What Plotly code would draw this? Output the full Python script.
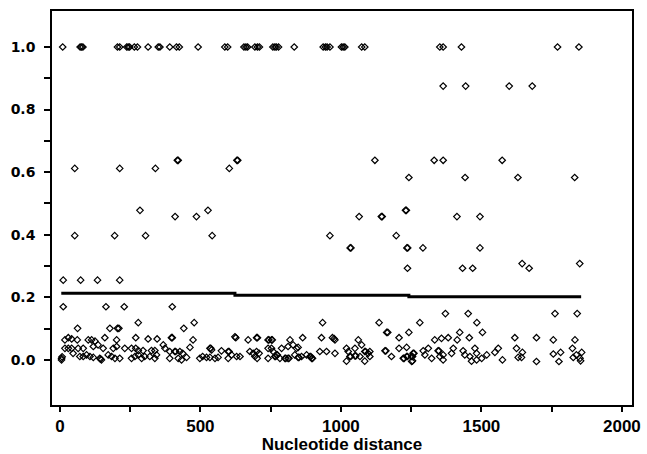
import plotly.graph_objects as go

# sparse points (upper part of the plot)
dist_high = [10, 72, 77, 82, 205, 213, 238, 243, 248, 265, 276, 314, 350, 356, 391, 415, 425, 492,
             587, 597, 655, 662, 668, 694, 703, 710, 758, 765, 770, 778, 834, 937, 945, 951, 961,
             1002, 1008, 1014, 1074, 1085, 1352, 1364, 1429, 1771, 1847,
             1364, 1444, 1599, 1681,
             418, 421, 630, 633, 1121, 1332, 1364, 1574,
             53, 213, 340, 603,
             1242, 1442, 1630, 1832,
             285, 527, 1230, 1233,
             410, 486, 1065, 1144, 1147, 1413, 1495,
             53, 195, 305, 542, 961, 1197,
             1033, 1036, 1235, 1238, 1292, 1495,
             1645, 1850,
             1237, 1433, 1469, 1670,
             12, 74, 134, 213,
             12, 164, 229, 400,
             1372, 1453, 1762, 1841,
             279, 478, 935, 1136, 1281, 1484,
             63, 178, 205, 210, 441,
             1163, 1167, 1242, 1423, 1504]
val_high = [1.0] * 45 + [0.875] * 4 + [0.638] * 8 + [0.612] * 4 + [0.583] * 4 + [0.478] * 4 \
    + [0.458] * 7 + [0.397] * 6 + [0.358] * 6 + [0.308] * 2 + [0.293] * 4 + [0.255] * 4 \
    + [0.170] * 4 + [0.148] * 4 + [0.119] * 6 + [0.101] * 5 + [0.088] * 5

# dense band near zero
dist_low = [18, 30, 42, 62, 101, 113, 125, 160, 202, 270, 314, 346,
            18, 30, 42, 65, 83, 119, 136, 154, 190, 202, 231, 255, 270, 279, 296, 326, 338,
            6, 6, 8, 47, 71, 83, 95, 107, 119, 142, 145, 148, 172, 184, 196, 213, 255, 267, 279,
            291, 302, 320, 338, 344,
            474, 397, 400, 368, 374, 463, 391, 409, 412, 427, 437, 391, 421, 433, 451, 498, 508,
            534, 537, 540, 522, 534, 552, 563, 575, 599, 602, 611, 599, 629, 641, 626, 623,
            670, 700, 703, 676, 688, 700, 709, 694, 702, 741, 744, 741, 741,
            753, 756, 819, 864, 931, 970, 976, 979, 1062,
            753, 759, 789, 812, 830, 842, 848,
            765, 768, 771, 774, 783, 801, 804, 812, 815,
            836, 848, 851, 860, 878, 890, 893, 896, 899,
            925, 949, 979, 1020, 1026, 1050, 1074, 1032, 1035, 1050, 1053, 1020,
            1085, 1088, 1097, 1103, 1068, 1085, 1103,
            1207, 1334, 1358, 1382, 1414, 1457,
            1157, 1160, 1180, 1207, 1234,
            1222, 1225, 1234, 1237, 1252, 1255, 1257, 1260, 1252, 1255,
            1293, 1299, 1311, 1323, 1346, 1349, 1352, 1364, 1364,
            1394, 1400, 1435, 1441, 1459, 1477, 1483, 1465, 1483, 1501, 1519,
            1619, 1696, 1756, 1833,
            1560, 1548, 1575, 1625, 1646, 1631, 1643, 1696, 1756, 1782, 1776,
            1824, 1838, 1827, 1857, 1851, 1853]
val_low = [0.064, 0.071, 0.067, 0.064, 0.064, 0.064, 0.060, 0.071, 0.064, 0.071, 0.067, 0.067,
           0.037, 0.037, 0.037, 0.037, 0.037, 0.043, 0.048, 0.037, 0.037, 0.043, 0.037, 0.037,
           0.037, 0.030, 0.030, 0.030, 0.030,
           0.005, 0.0, 0.010, 0.021, 0.011, 0.011, 0.016, 0.011, 0.008, 0.005, 0.003, 0.0, 0.016,
           0.011, 0.005, 0.005, 0.005, 0.011, 0.016, 0.005, 0.011, 0.011, 0.005, 0.016,
           0.064, 0.071, 0.071, 0.048, 0.037, 0.040, 0.027, 0.027, 0.027, 0.027, 0.021, 0.005,
           0.005, 0.0, 0.008, 0.005, 0.011,
           0.037, 0.037, 0.032, 0.008, 0.008, 0.005, 0.008, 0.029, 0.027, 0.027, 0.016, 0.005,
           0.011, 0.011, 0.071, 0.074,
           0.064, 0.071, 0.071, 0.027, 0.021, 0.027, 0.021, 0.011, 0.005, 0.064, 0.064, 0.037,
           0.005,
           0.064, 0.064, 0.064, 0.071, 0.071, 0.071, 0.068, 0.064, 0.064,
           0.037, 0.027, 0.037, 0.043, 0.048, 0.037, 0.040,
           0.011, 0.011, 0.016, 0.016, 0.005, 0.005, 0.005, 0.005, 0.005,
           0.016, 0.008, 0.008, 0.011, 0.016, 0.011, 0.011, 0.005, 0.005,
           0.027, 0.027, 0.021, 0.037, 0.027, 0.037, 0.048, 0.011, 0.011, 0.013, 0.013, -0.004,
           0.027, 0.027, 0.021, 0.027, 0.011, -0.004, 0.011,
           0.071, 0.064, 0.069, 0.071, 0.064, 0.071,
           0.029, 0.029, 0.011, 0.037, 0.040,
           0.005, 0.005, 0.011, 0.011, 0.011, 0.011, 0.021, 0.021, -0.005, -0.003,
           0.029, 0.016, 0.037, 0.005, 0.029, 0.029, 0.011, 0.0, 0.016,
           0.021, 0.037, 0.029, 0.016, 0.011, 0.037, 0.021, -0.004, 0.0, 0.005, 0.016,
           0.071, 0.071, 0.064, 0.064,
           0.037, 0.024, 0.0, 0.037, 0.024, 0.008, 0.008, -0.005, 0.019, 0.024, -0.005,
           0.037, 0.016, 0.008, 0.024, 0.005, -0.003]

# mean line (steps)
mean_x = [5, 623, 1242, 1855]
mean_y = [0.213, 0.207, 0.202, 0.202]

x_ticks = [0, 250, 500, 750, 1000, 1250, 1500, 1750, 2000]
x_labels = ["0", "", "500", "", "1000", "", "1500", "", "2000"]
y_ticks = [0.0, 0.1, 0.2, 0.3, 0.4, 0.5, 0.6, 0.7, 0.8, 0.9, 1.0]
y_labels = ["0.0", "", "0.2", "", "0.4", "", "0.6", "", "0.8", "", "1.0"]

fig = go.Figure()
fig.add_trace(go.Scatter(x=dist_high + dist_low, y=val_high + val_low, mode="markers",
                         marker=dict(symbol="diamond-open", size=5, color="black",
                                     line=dict(width=1.2, color="black")),
                         showlegend=False))
fig.add_trace(go.Scatter(x=mean_x, y=mean_y, mode="lines", line_shape="hv",
                         line=dict(color="black", width=3), showlegend=False))

fig.update_layout(
    width=647, height=454,
    margin=dict(l=52, r=15, t=11, b=49),
    paper_bgcolor="white", plot_bgcolor="white",
)
fig.update_xaxes(range=[-28, 2036], tickvals=x_ticks, ticktext=x_labels, automargin=False,
                 ticks="outside", ticklen=5, tickwidth=1.5, tickcolor="black",
                 showline=True, linecolor="black", linewidth=1.5, mirror=True,
                 showgrid=False, zeroline=False,
                 tickfont=dict(family="Liberation Sans", size=17, color="black", weight="bold"),
                 title=dict(text="Nucleotide distance", standoff=1,
                            font=dict(family="Liberation Sans", size=17, color="black",
                                      weight="bold")))
fig.update_yaxes(range=[-0.144, 1.115], tickvals=y_ticks, ticktext=y_labels, automargin=False,
                 ticks="outside", ticklen=6, tickwidth=1.5, tickcolor="black",
                 showline=True, linecolor="black", linewidth=1.5, mirror=True,
                 showgrid=False, zeroline=False, ticklabelstandoff=6,
                 tickfont=dict(family="DejaVu Sans", size=14, color="black", weight="bold"))

# page has a default 8px body margin; drop it so the figure fills the window
fig.write_html("out.html", config={"displayModeBar": False},
               post_script="document.body.style.margin='0';")
